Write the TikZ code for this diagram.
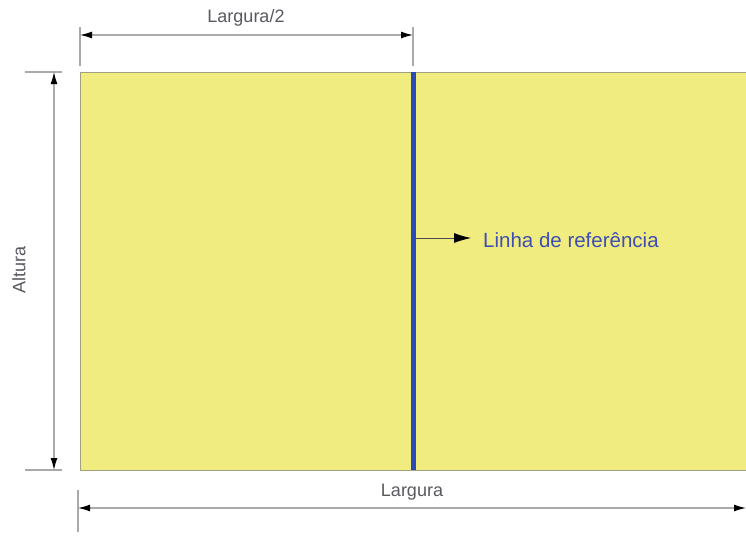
\documentclass[tikz,border=0pt]{standalone}
\usepackage{fontspec}
\setmainfont{Liberation Sans}
\usetikzlibrary{arrows.meta}
\definecolor{campo}{RGB}{240,236,128}
\definecolor{azulref}{RGB}{42,74,184}
\definecolor{textoref}{RGB}{62,78,178}
\definecolor{cota}{RGB}{170,170,170}
\definecolor{textocota}{RGB}{88,88,95}
\begin{document}
\begin{tikzpicture}[x=1pt, y=-1pt, line join=round, >={Latex[length=12pt,width=7pt,color=black]},
  font=\fontsize{18}{21}\selectfont]
	\tikzset{dim/.style={draw=cota, line width=1.2pt}, dimlbl/.style={text=textocota, inner sep=0pt}}
	\useasboundingbox (0,0) rectangle (746,539);
	% campo e linha de referencia
	\coordinate (NW) at (80,72); \coordinate (SE) at (746,470);
	\coordinate (RT) at (413,72); \coordinate (RB) at (413,470);
	\fill[campo, draw=gray!70!campo, line width=0.8pt] (NW) rectangle (SE);
	\draw[azulref, line width=5pt] (RT) -- (RB);
	% cotas
	\draw[dim] (80,27) -- (80,66) (413,27) -- (413,66);
	\draw[dim] (25,72) -- (62,72) (25,470) -- (62,470);
	\draw[dim] (78,490) -- (78,532);
	\coordinate (T1) at (80,35); \coordinate (T2) at (413,35);
	\coordinate (L1) at (54,72); \coordinate (L2) at (54,470);
	\coordinate (B1) at (78,508); \coordinate (B2) at (746,508);
	\draw[dim, <->] (T1) -- (T2);
	\node[dimlbl] (metade) at (246,18) {Largura/2};
	\draw[dim, <->] (L1) -- (L2);
	\node[dimlbl, rotate=90] (altura) at (19,270) {Altura};
	\draw[dim, <->] (B1) -- (B2);
	\node[dimlbl] (largura) at (412,492) {Largura};
	% indicacao
	\coordinate (R) at (415,238);
	\node[text=textoref, anchor=west, inner sep=0pt, font=\fontsize{20.5}{24}\selectfont] (ref) at (483,240) {Linha de referência};
	\draw[-{Latex[length=17pt,width=10pt,color=black]}, line width=0.8pt, draw=black!70] (R) -- ++(56,0);
\end{tikzpicture}
\end{document}
